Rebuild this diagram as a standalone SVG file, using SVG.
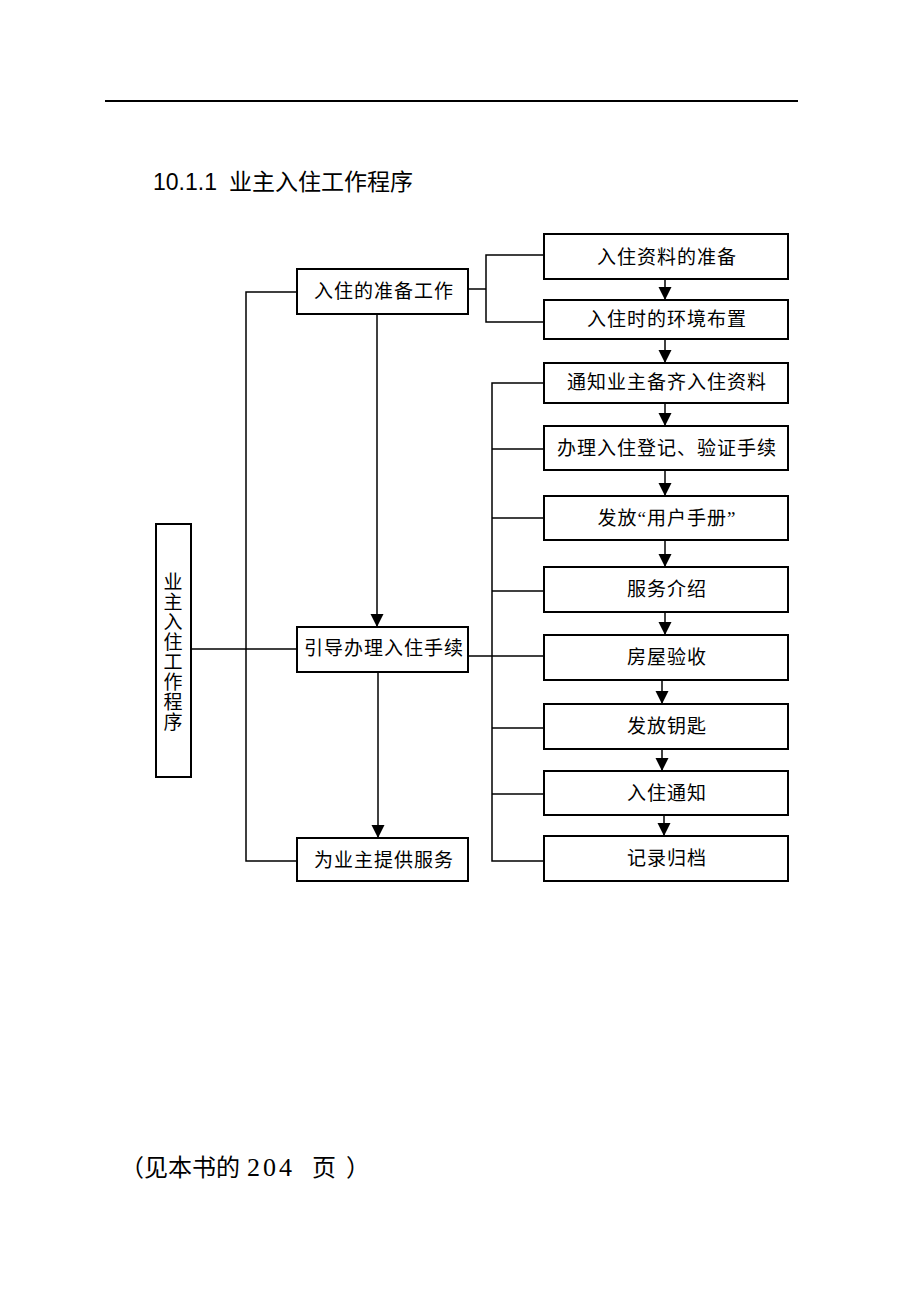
<svg xmlns="http://www.w3.org/2000/svg" width="920" height="1299" viewBox="0 0 920 1299">
<style>
.box{fill:#fff;stroke:#000;stroke-width:2}
.ln{fill:none;stroke:#000;stroke-width:1.5}
.t{font-family:"Liberation Serif","Noto Sans CJK SC",serif;font-size:19px;letter-spacing:1px;text-anchor:middle;dominant-baseline:central;fill:#000}
.v{font-family:"Liberation Serif","Noto Sans CJK SC",serif;font-size:19px;text-anchor:middle;dominant-baseline:central;fill:#000}
</style>
<defs>
<marker id="ah" markerWidth="14" markerHeight="14" refX="12" refY="6.5" orient="auto" markerUnits="userSpaceOnUse">
<path d="M0,0 L13,6.5 L0,13 Z" fill="#000"/>
</marker>
</defs>
<rect width="920" height="1299" fill="#fff"/>
<line x1="105" y1="101" x2="798" y2="101" stroke="#000" stroke-width="2"/>
<text y="190" font-family="'Liberation Sans','Noto Sans CJK SC',sans-serif" font-size="23" fill="#000"><tspan x="153">10.1.1</tspan><tspan x="229">业主入住工作程序</tspan></text>
<g id="connectors">
<polyline class="ln" points="297,292 246,292 246,861 297,861"/>
<line class="ln" x1="191" y1="649" x2="297" y2="649"/>
<line class="ln" x1="377" y1="314" x2="377" y2="626" marker-end="url(#ah)"/>
<line class="ln" x1="378" y1="672" x2="378" y2="837" marker-end="url(#ah)"/>
<line class="ln" x1="468" y1="289" x2="486" y2="289"/>
<polyline class="ln" points="544,255 486,255 486,322 544,322"/>
<line class="ln" x1="468" y1="656" x2="544" y2="656"/>
<polyline class="ln" points="544,383 492,383 492,861 544,861"/>
<line class="ln" x1="492" y1="449" x2="544" y2="449"/>
<line class="ln" x1="492" y1="518" x2="544" y2="518"/>
<line class="ln" x1="492" y1="591" x2="544" y2="591"/>
<line class="ln" x1="492" y1="728" x2="544" y2="728"/>
<line class="ln" x1="492" y1="794" x2="544" y2="794"/>
<line class="ln" x1="665" y1="279" x2="665" y2="299" marker-end="url(#ah)"/>
<line class="ln" x1="665" y1="339" x2="665" y2="362" marker-end="url(#ah)"/>
<line class="ln" x1="665" y1="403" x2="665" y2="425" marker-end="url(#ah)"/>
<line class="ln" x1="665" y1="470" x2="665" y2="495" marker-end="url(#ah)"/>
<line class="ln" x1="665" y1="540" x2="665" y2="566" marker-end="url(#ah)"/>
<line class="ln" x1="665" y1="612" x2="665" y2="634" marker-end="url(#ah)"/>
<line class="ln" x1="662" y1="680" x2="662" y2="703" marker-end="url(#ah)"/>
<line class="ln" x1="662" y1="749" x2="662" y2="770" marker-end="url(#ah)"/>
<line class="ln" x1="664" y1="815" x2="664" y2="835" marker-end="url(#ah)"/>
</g>
<g id="n-main"><rect class="box" x="156" y="524" width="35" height="253"/>
<text class="v"><tspan x="173" y="582">业</tspan><tspan x="173" y="602">主</tspan><tspan x="173" y="622">入</tspan><tspan x="173" y="642">住</tspan><tspan x="173" y="662">工</tspan><tspan x="173" y="682">作</tspan><tspan x="173" y="702">程</tspan><tspan x="173" y="722">序</tspan></text></g>
<g id="n-prep"><rect class="box" x="297" y="269" width="171" height="45"/><text class="t" x="384" y="291">入住的准备工作</text></g>
<g id="n-guide"><rect class="box" x="297" y="627" width="171" height="45"/><text class="t" x="384" y="648">引导办理入住手续</text></g>
<g id="n-serve"><rect class="box" x="297" y="838" width="171" height="43"/><text class="t" x="384" y="860">为业主提供服务</text></g>
<g id="r1"><rect class="box" x="544" y="234" width="244" height="45"/><text class="t" x="667" y="257">入住资料的准备</text></g>
<g id="r2"><rect class="box" x="544" y="300" width="244" height="39"/><text class="t" x="667" y="319">入住时的环境布置</text></g>
<g id="r3"><rect class="box" x="544" y="363" width="244" height="40"/><text class="t" x="667" y="382">通知业主备齐入住资料</text></g>
<g id="r4"><rect class="box" x="544" y="426" width="244" height="44"/><text class="t" x="667" y="448">办理入住登记、验证手续</text></g>
<g id="r5"><rect class="box" x="544" y="496" width="244" height="44"/><text class="t" x="667" y="518">发放“用户手册”</text></g>
<g id="r6"><rect class="box" x="544" y="567" width="244" height="45"/><text class="t" x="667" y="589">服务介绍</text></g>
<g id="r7"><rect class="box" x="544" y="635" width="244" height="45"/><text class="t" x="667" y="657">房屋验收</text></g>
<g id="r8"><rect class="box" x="544" y="704" width="244" height="45"/><text class="t" x="667" y="726">发放钥匙</text></g>
<g id="r9"><rect class="box" x="544" y="771" width="244" height="44"/><text class="t" x="667" y="793">入住通知</text></g>
<g id="r10"><rect class="box" x="544" y="836" width="244" height="45"/><text class="t" x="667" y="858">记录归档</text></g>
<text y="1176" font-family="'Liberation Serif','Noto Sans CJK SC',serif" font-size="24" fill="#000"><tspan x="120">（见本书的</tspan><tspan x="247" font-size="26" letter-spacing="3">204</tspan><tspan x="312">页</tspan><tspan x="346">）</tspan></text>
</svg>
